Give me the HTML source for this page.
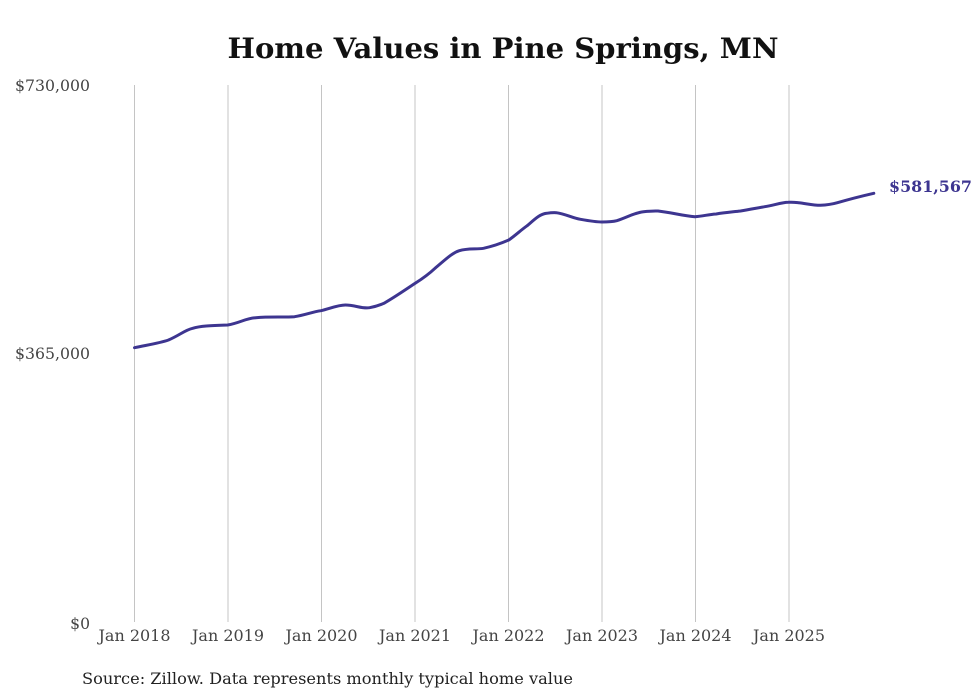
<!DOCTYPE html>
<html><head><meta charset="utf-8"><style>
html,body{margin:0;padding:0;background:#fff;}
svg{display:block;}
text{font-family:"DejaVu Serif","Liberation Serif",serif;}
</style></head><body>
<svg width="980" height="699" viewBox="0 0 980 699" xmlns="http://www.w3.org/2000/svg">
<rect width="980" height="699" fill="#fff"/>
<text x="503" y="58" text-anchor="middle" font-size="28" font-weight="bold" fill="#111" textLength="551" lengthAdjust="spacingAndGlyphs">Home Values in Pine Springs, MN</text>
<g stroke="#c4c4c4" stroke-width="1">
<line x1="134.5" y1="85" x2="134.5" y2="622"/>
<line x1="228" y1="85" x2="228" y2="622"/>
<line x1="321.5" y1="85" x2="321.5" y2="622"/>
<line x1="415" y1="85" x2="415" y2="622"/>
<line x1="508.5" y1="85" x2="508.5" y2="622"/>
<line x1="602" y1="85" x2="602" y2="622"/>
<line x1="695.5" y1="85" x2="695.5" y2="622"/>
<line x1="789" y1="85" x2="789" y2="622"/>
</g>
<g font-size="15.6" fill="#444" text-anchor="end">
<text x="90" y="91" textLength="75" lengthAdjust="spacingAndGlyphs">$730,000</text>
<text x="90" y="359" textLength="75" lengthAdjust="spacingAndGlyphs">$365,000</text>
<text x="90" y="629">$0</text>
</g>
<g font-size="16" fill="#444" text-anchor="middle">
<text x="134.5" y="641" textLength="72" lengthAdjust="spacingAndGlyphs">Jan 2018</text>
<text x="228" y="641" textLength="72" lengthAdjust="spacingAndGlyphs">Jan 2019</text>
<text x="321.5" y="641" textLength="72" lengthAdjust="spacingAndGlyphs">Jan 2020</text>
<text x="415" y="641" textLength="72" lengthAdjust="spacingAndGlyphs">Jan 2021</text>
<text x="508.5" y="641" textLength="72" lengthAdjust="spacingAndGlyphs">Jan 2022</text>
<text x="602" y="641" textLength="72" lengthAdjust="spacingAndGlyphs">Jan 2023</text>
<text x="695.5" y="641" textLength="72" lengthAdjust="spacingAndGlyphs">Jan 2024</text>
<text x="789" y="641" textLength="72" lengthAdjust="spacingAndGlyphs">Jan 2025</text>
</g>
<path fill="none" stroke="#3d3590" stroke-width="3" stroke-linejoin="round" stroke-linecap="round"
d="M134.5,347.7 C150,344.5 160,343 168.5,340 C180,335 185,330 192.7,328.3 C200,326 210,325.5 227.6,325 C240,323 245,318.5 255.7,317.7 C270,316.5 285,317.5 294.5,316.7 C305,315 312,312 321,310.7 C330,308.5 338,305 345.4,305 C355,305 362,309 369.6,307.7 C376,306.5 380,305 384,303.3 C395,297 405,290 415.2,283.3 C425,277 430,273 435,268.3 C445,260 452,253 459.3,250.7 C468,248 476,249.5 483.5,248.3 C494,246 502,243 508.8,240 C516,235 521,230 527.2,225.7 C535,219 540,214 546.6,213.3 C552,212.5 553,212.5 556.3,212.7 C566,214 572,218 580.5,219.3 C590,221 596,222 601.8,222 C608,222 612,222 616.8,220.7 C628,217 635,212.5 643.5,211.7 C650,211 654,210.8 658,211 C672,212.5 683,216 694.9,216.7 C704,216 708,214.5 716.2,214 C725,212.5 732,212 740.5,211 C750,209.5 757,208 764.7,206.7 C775,205 781,202.5 788.4,202.3 C793,202 795,202.3 798.6,202.7 C806,203.5 813,205.3 820.4,205.3 C828,205 831,204.5 837.4,202.7 C850,199 862,196 873.8,193.3"/>
<text x="889" y="192" font-size="16" font-weight="bold" fill="#3d3590" textLength="83" lengthAdjust="spacingAndGlyphs">$581,567</text>
<text x="82" y="684" font-size="16" fill="#222" textLength="491" lengthAdjust="spacingAndGlyphs">Source: Zillow. Data represents monthly typical home value</text>
</svg>
</body></html>
